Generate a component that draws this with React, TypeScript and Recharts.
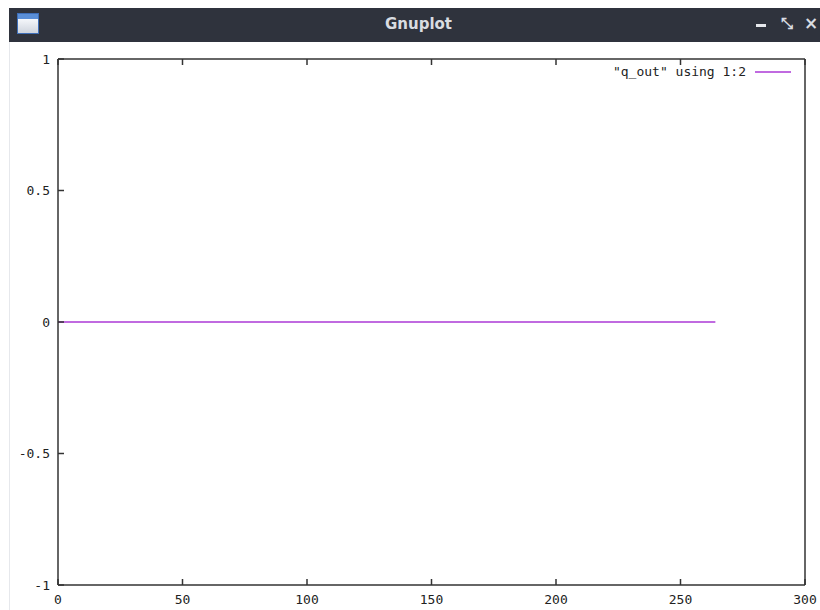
import React from 'react';
import { LineChart, Line, XAxis, YAxis, Legend } from 'recharts';

const sampleX = [0, 50, 100, 150, 200, 250, 264];
const qOut = [0, 0, 0, 0, 0, 0, 0];
const xTicks = [0, 50, 100, 150, 200, 250, 300];
const yTicks = [-1, -0.5, 0, 0.5, 1];
const seriesName = '"q_out" using 1:2';

const data = sampleX.map((x, i) => ({ x, q: qOut[i] }));

const FONT = '"DejaVu Sans Mono", monospace';
const AXIS = '#333';
const LINE = '#c06ae0';

const LegendBox = () => (
  <div style={{ display: 'flex', alignItems: 'center', justifyContent: 'flex-end', fontFamily: FONT, fontSize: 13, color: '#222' }}>
    <span>{seriesName}</span>
    <div style={{ width: 36, height: 2, background: LINE, marginLeft: 9 }} />
  </div>
);

const TitleBar = () => (
  <div
    style={{
      position: 'absolute',
      left: 9,
      top: 8,
      width: 811,
      height: 34,
      background: '#2f333d',
      color: '#d9dce1',
      fontFamily: '"DejaVu Sans", sans-serif',
    }}
  >
    <div
      style={{
        position: 'absolute',
        left: 8,
        top: 5,
        width: 20,
        height: 19,
        border: '1px solid #3f6fb8',
        background: 'linear-gradient(#5a8fd8 0 28%, #f4f6fa 28%, #cfd5de)',
      }}
    />
    <div style={{ position: 'absolute', left: 0, right: 0, top: 7, textAlign: 'center', fontWeight: 'bold', fontSize: 15, paddingLeft: 8 }}>
      Gnuplot
    </div>
    <div style={{ position: 'absolute', left: 747, top: 16, width: 10, height: 3, background: '#e6e8ec' }} />
    <div style={{ position: 'absolute', left: 772, top: 6, fontSize: 15, fontWeight: 'bold' }}>⤡</div>
    <div style={{ position: 'absolute', left: 795, top: 5, fontSize: 17, fontWeight: 'bold' }}>×</div>
  </div>
);

export default function App() {
  return (
    <div style={{ position: 'absolute', left: 0, top: 0, width: 820, height: 610, background: '#fff', overflow: 'hidden' }}>
      <div style={{ position: 'absolute', left: 9, top: 8, width: 1, height: 602, background: '#e6e8ec' }} />
      <div style={{ position: 'absolute', left: 0, top: 0 }}>
        <LineChart width={820} height={610} data={data} margin={{ top: 0, right: 0, bottom: 0, left: 0 }} style={{ fontFamily: FONT }}>
          <XAxis
            xAxisId="bottom"
            dataKey="x"
            type="number"
            domain={[0, 300]}
            ticks={xTicks}
            height={25}
            orientation="bottom"
            stroke={AXIS}
            strokeWidth={1.5}
            tickSize={-6}
            tickMargin={16}
            tick={{ fill: '#222', fontSize: 13 }}
            interval={0}
          />
          <XAxis
            xAxisId="top"
            dataKey="x"
            type="number"
            domain={[0, 300]}
            ticks={xTicks}
            height={59}
            orientation="top"
            stroke={AXIS}
            strokeWidth={1.5}
            tickSize={-6}
            tickFormatter={() => ''}
            interval={0}
          />
          <YAxis
            yAxisId="left"
            type="number"
            domain={[-1, 1]}
            ticks={yTicks}
            width={58}
            orientation="left"
            stroke={AXIS}
            strokeWidth={1.5}
            tickSize={-6}
            tickMargin={14}
            tick={{ fill: '#222', fontSize: 13 }}
            interval={0}
          />
          <YAxis
            yAxisId="right"
            type="number"
            domain={[-1, 1]}
            ticks={yTicks}
            width={15}
            orientation="right"
            stroke={AXIS}
            strokeWidth={1.5}
            tickSize={-6}
            tickFormatter={() => ''}
            interval={0}
          />
          <Line
            xAxisId="bottom"
            yAxisId="left"
            dataKey="q"
            stroke={LINE}
            strokeWidth={2}
            dot={false}
            isAnimationActive={false}
            legendType="none"
          />
          <Legend
            verticalAlign="middle"
            align="center"
            layout="horizontal"
            wrapperStyle={{ position: 'absolute', top: 64, left: 560, width: 231 }}
            content={<LegendBox />}
          />
        </LineChart>
      </div>
      <TitleBar />
    </div>
  );
}
